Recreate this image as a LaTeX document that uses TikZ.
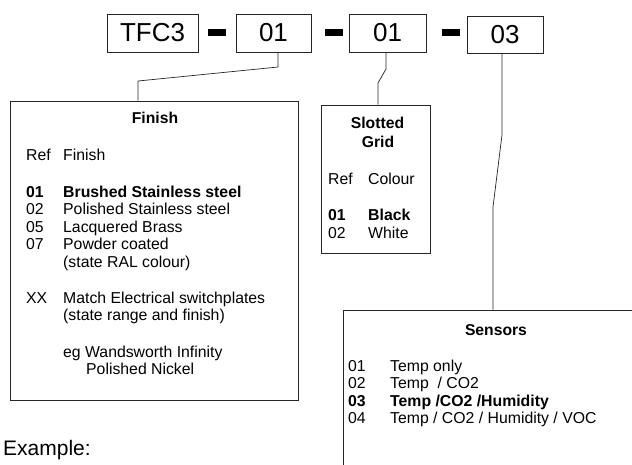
\documentclass[tikz,border=0pt]{standalone}
\usepackage{fontspec}
\setmainfont{Liberation Sans}
\tikzset{
 topbox/.style={draw=black!85, line width=0.8pt, minimum height=38pt, inner sep=0pt, font=\fontsize{26}{30}\selectfont},
 dashbar/.style={fill=black, minimum width=18pt, minimum height=6.5pt, inner sep=0pt},
 panel/.style={draw=black!85, line width=0.8pt, inner sep=0pt},
 txt/.style={anchor=base west, inner sep=0pt, font=\fontsize{15.8}{17.5}\selectfont},
 btxt/.style={txt, font=\fontsize{15.8}{17.5}\selectfont\bfseries},
 ttl/.style={anchor=base, inner sep=0pt, font=\fontsize{15.7}{17.5}\selectfont\bfseries},
 conn/.style={draw=black!85, line width=0.7pt},
}
\begin{document}
\begin{tikzpicture}[x=1pt,y=-1pt]
\clip (0,0) rectangle (632,464);
\fill[white] (0,0) rectangle (632,464);
% top code boxes
\node[topbox, minimum width=91pt] (tfc) at (152.5,33) {TFC3};
\node[dashbar] (d1) at (217,32.5) {};
\node[topbox, minimum width=75pt] (b1) at (273.5,33) {01};
\node[dashbar] (d2) at (334,32.5) {};
\node[topbox, minimum width=77pt] (b2) at (387.5,33) {01};
\node[dashbar] (d3) at (451,32.5) {};
\node[topbox, minimum width=76pt, minimum height=37pt] (b3) at (505,34.5) {03};
% panels
\node[panel, minimum width=288pt, minimum height=299pt] (finish) at (154,250.5) {};
\node[panel, minimum width=109pt, minimum height=148pt] (slot) at (375.5,179) {};
\node[panel, minimum width=307pt, minimum height=170pt] (sens) at (496.5,395) {};
% connectors
\coordinate (k1a) at (278,67);
\coordinate (k1b) at (138,81);
\draw[conn] (b1.south -| k1a) -- (k1a) -- (k1b) -- (k1b |- finish.north);
\coordinate (k2a) at (386,69);
\coordinate (k2b) at (378,83);
\draw[conn] (b2.south -| k2a) -- (k2a) -- (k2b) -- (k2b |- slot.north);
\coordinate (k3a) at (502,135);
\coordinate (k3b) at (493,207);
\draw[conn] (b3.south -| k3a) -- (k3a) -- (k3b) -- (k3b |- sens.north);
% Finish panel text
\node[ttl] (ft) at (155,123) {Finish};
\node[txt] (fr1) at (26,160) {Ref};
\node[txt] (fr2) at (63,160) {Finish};
\node[btxt] (f1a) at (26,197) {01};
\node[btxt] (f1b) at (63,197) {Brushed Stainless steel};
\node[txt] (f2a) at (26,214.5) {02};
\node[txt] (f2b) at (63,214.5) {Polished Stainless steel};
\node[txt] (f3a) at (26,232) {05};
\node[txt] (f3b) at (63,232) {Lacquered Brass};
\node[txt] (f4a) at (26,249.5) {07};
\node[txt] (f4b) at (63,249.5) {Powder coated};
\node[txt] (f4c) at (63,267) {(state RAL colour)};
\node[txt] (f5a) at (26,303) {XX};
\node[txt] (f5b) at (63,303) {Match Electrical switchplates};
\node[txt] (f5c) at (63,320.5) {(state range and finish)};
\node[txt] (f6a) at (63,357) {eg Wandsworth Infinity};
\node[txt] (f6b) at (86,374.5) {Polished Nickel};
% Slotted grid text
\node[ttl] (st1) at (377.5,128) {Slotted};
\node[ttl] (st2) at (378,147) {Grid};
\node[txt] (sr1) at (328,184) {Ref};
\node[txt] (sr2) at (368,184) {Colour};
\node[btxt] (s1a) at (328,220) {01};
\node[btxt] (s1b) at (368,220) {Black};
\node[txt] (s2a) at (328,238) {02};
\node[txt] (s2b) at (368,238) {White};
% Sensors text
\node[ttl] (set) at (496,335) {Sensors};
\node[txt] (e1a) at (348,371) {01};
\node[txt] (e1b) at (390,371) {Temp only};
\node[txt] (e2a) at (348,388.5) {02};
\node[txt] (e2b) at (390,388.5) {Temp~~/ CO2};
\node[btxt] (e3a) at (348,406) {03};
\node[btxt] (e3b) at (390,406) {Temp /CO2 /Humidity};
\node[txt] (e4a) at (348,423.5) {04};
\node[txt] (e4b) at (390,423.5) {Temp / CO2 / Humidity / VOC};
% Example
\node[anchor=base west, inner sep=0pt, font=\fontsize{21}{24}\selectfont] (ex) at (3,455) {Example:};
\end{tikzpicture}
\end{document}
